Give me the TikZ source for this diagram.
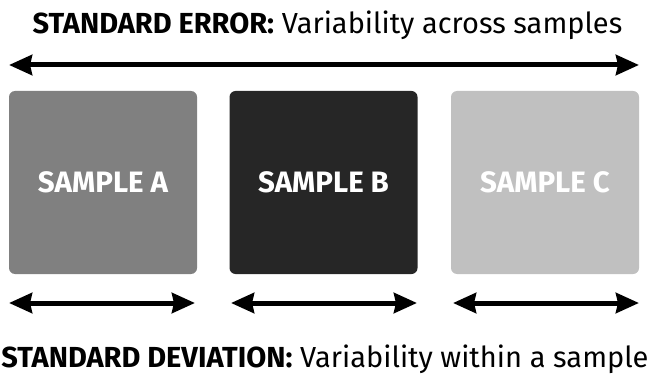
\documentclass[tikz,border=0pt]{standalone}
\usepackage{fontspec}
\setmainfont{Fira Sans}
\usetikzlibrary{arrows.meta}
\definecolor{boxA}{HTML}{808080}
\definecolor{boxB}{HTML}{262626}
\definecolor{boxC}{HTML}{C0C0C0}
\tikzset{
  samplebox/.style={draw=none, rounded corners=6pt, minimum width=188pt, minimum height=183pt, inner sep=0pt,
    text=white, font=\fontsize{29.5}{34}\selectfont\bfseries},
  spanarrow/.style={line width=5pt, {Stealth[length=23pt 0 0, width=20pt 0 0, inset=2pt]}-{Stealth[length=23pt 0 0, width=20pt 0 0, inset=2pt]}},
  titletext/.style={anchor=base, inner sep=0pt, font=\fontsize{29}{34}\selectfont}
}
\begin{document}
\begin{tikzpicture}[x=1pt, y=-1pt]
\useasboundingbox (0,0) rectangle (650,374);
\node[titletext] (top) at (327.5,34) {\textbf{STANDARD ERROR:} Variability across samples};
\coordinate (tl) at (9,65);
\coordinate (tr) at (639,65);
\draw[spanarrow] (tl) -- (tr);
\node[samplebox, fill=boxA] (A) at (103,182.5) {SAMPLE A};
\node[samplebox, fill=boxB] (B) at (323.5,182.5) {SAMPLE B};
\node[samplebox, fill=boxC] (C) at (545,182.5) {SAMPLE C};
\coordinate (a1) at (9,303);
\coordinate (a2) at (195,303);
\coordinate (b1) at (231,303);
\coordinate (b2) at (417,303);
\coordinate (c1) at (453,303);
\coordinate (c2) at (639,303);
\draw[spanarrow] (a1) -- (a2);
\draw[spanarrow] (b1) -- (b2);
\draw[spanarrow] (c1) -- (c2);
\node[titletext] (bottom) at (325,367) {\textbf{STANDARD DEVIATION:} Variability within a sample};
\end{tikzpicture}
\end{document}
